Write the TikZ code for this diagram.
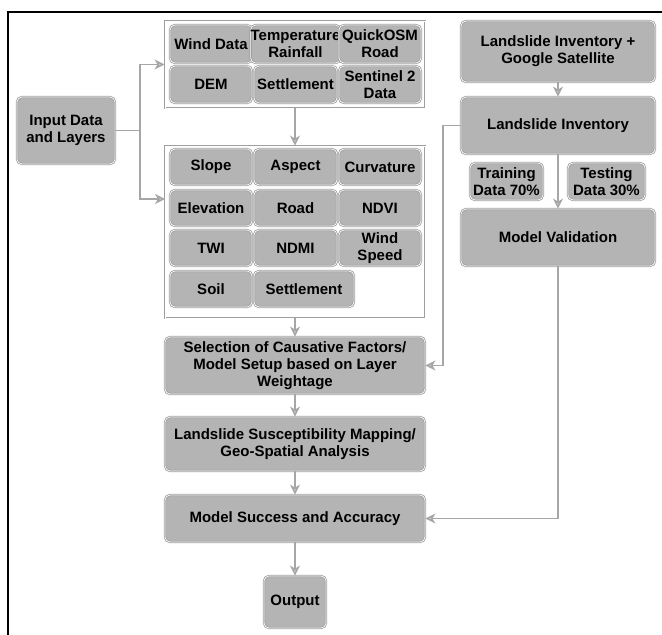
\documentclass[tikz,border=0pt]{standalone}
\usepackage{fontspec}
\setmainfont{Liberation Sans}
\usetikzlibrary{arrows.meta,calc}
\definecolor{boxfill}{HTML}{B4B4B4}
\definecolor{boxline}{HTML}{9E9E9E}
\definecolor{connline}{HTML}{A6A6A6}
\definecolor{tipfill}{HTML}{E6E6E6}
\begin{document}
\begin{tikzpicture}[x=1pt,y=-1pt,
 cell/.style={draw=boxline, double=white, double distance=0.7pt, line width=0.8pt, fill=boxfill, rounded corners=5pt, inner sep=0pt, align=center, font=\fontsize{15}{17}\selectfont\bfseries, text=black},
 grp/.style={draw=boxline, double=white, double distance=0.7pt, line width=0.9pt, fill=white, inner sep=0pt},
 conn/.style={draw=connline, line width=1.6pt, -{Stealth[length=10pt,width=10pt,inset=3pt,fill=tipfill]}},
 plain/.style={draw=connline, line width=1.6pt}
]
\path[use as bounding box] (0,0) rectangle (662,635);
\draw[black,line width=1.4pt] (8,645) -- (8,12) -- (670,12);

% groups
\node[grp, minimum width=260pt, minimum height=87pt] (g1) at (295,64.5) {};
\node[grp, minimum width=260pt, minimum height=172pt] (g2) at (295,232) {};

% top group cells
\node[cell, minimum width=82pt, minimum height=38pt] (wind) at (211,44) {Wind Data};
\node[cell, minimum width=83pt, minimum height=38pt] (temp) at (295.5,44) {Temperature\\Rainfall};
\node[cell, minimum width=82pt, minimum height=38pt] (osm) at (380,44) {QuickOSM\\Road};
\node[cell, minimum width=82pt, minimum height=37pt] (dem) at (211,84.5) {DEM};
\node[cell, minimum width=83pt, minimum height=37pt] (settl) at (295.5,84.5) {Settlement};
\node[cell, minimum width=82pt, minimum height=37pt] (sent) at (380,84.5) {Sentinel 2\\Data};

% second group cells
\node[cell, minimum width=82pt, minimum height=36pt] (slope) at (211,167) {Slope};
\node[cell, minimum width=83pt, minimum height=36pt] (aspect) at (295.5,167) {Aspect};
\node[cell, minimum width=82pt, minimum height=36pt] (curv) at (380,167) {Curvature};
\node[cell, minimum width=82pt, minimum height=36pt] (elev) at (211,208) {Elevation};
\node[cell, minimum width=83pt, minimum height=36pt] (road) at (295.5,208) {Road};
\node[cell, minimum width=82pt, minimum height=36pt] (ndvi) at (380,208) {NDVI};
\node[cell, minimum width=82pt, minimum height=36pt] (twi) at (211,248) {TWI};
\node[cell, minimum width=83pt, minimum height=36pt] (ndmi) at (295.5,248) {NDMI};
\node[cell, minimum width=82pt, minimum height=36pt] (wspd) at (380,248) {Wind\\Speed};
\node[cell, minimum width=82pt, minimum height=36pt] (soil) at (211,289) {Soil};
\node[cell, minimum width=100pt, minimum height=36pt] (settl2) at (304,289) {Settlement};

% main boxes
\node[cell, minimum width=98pt, minimum height=67pt] (inp) at (66,130.5) {Input Data\\and Layers};
\node[cell, minimum width=260pt, minimum height=57pt] (sel) at (295,365.5) {Selection of Causative Factors/\\Model Setup based on Layer\\Weightage};
\node[cell, minimum width=260pt, minimum height=54pt] (lsm) at (295,444) {Landslide Susceptibility Mapping/\\Geo-Spatial Analysis};
\node[cell, minimum width=260pt, minimum height=47pt] (msa) at (295,518.5) {Model Success and Accuracy};
\node[cell, minimum width=62pt, minimum height=52pt] (out) at (295,602) {Output};

% right column
\node[cell, minimum width=194pt, minimum height=61pt] (lig) at (558,51.5) {Landslide Inventory +\\Google Satellite};
\node[cell, minimum width=194pt, minimum height=57pt] (li) at (558,125.5) {Landslide Inventory};
\node[cell, minimum width=73pt, minimum height=37pt] (train) at (506.5,181.5) {Training\\Data 70\%};
\node[cell, minimum width=77pt, minimum height=37pt] (test) at (606.5,181.5) {Testing\\Data 30\%};
\node[cell, minimum width=194pt, minimum height=57pt] (mv) at (558,237.5) {Model Validation};

% connectors
\coordinate (jn) at (140,130.5);
\coordinate (g2in) at (165,199);
\draw[plain] (inp.east) -- (jn);
\draw[conn] (jn) |- (g1.west);
\draw[conn] (jn) |- (g2in);
\draw[conn] (g1.south) -- (g2.north);
\draw[conn] (g2.south) -- (sel.north);
\draw[conn] (sel.south) -- (lsm.north);
\draw[conn] (lsm.south) -- (msa.north);
\draw[conn] (msa.south) -- (out.north);
\draw[conn] (lig.south) -- (li.north);
\draw[conn] (li.south) -- (mv.north);
\coordinate (lbend) at (443,125.5);
\draw[conn] (li.west) -- (lbend) |- (sel.east);
\draw[conn] (mv.south) |- (msa.east);
\end{tikzpicture}
\end{document}
